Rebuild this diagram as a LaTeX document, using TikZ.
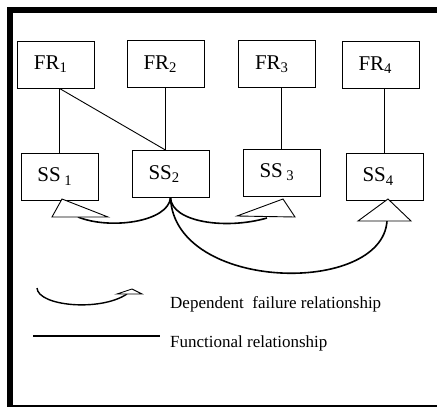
\documentclass[tikz,border=0pt]{standalone}
\usepackage{fontspec}
\setmainfont{Liberation Serif}
\usetikzlibrary{calc,positioning}

\begin{document}
\begin{tikzpicture}[
	%	style def
    x=1pt, y=-1pt,
    thin line/.style={line width=0.9pt},
    curve line/.style={line width=1.6pt},
    frame line/.style={line width=6pt},
    box/.style={draw, line width=0.9pt, minimum height=47pt, text width=44pt, inner xsep=16.5pt, inner ysep=0pt, align=left, font=\fontsize{21}{25}\selectfont},
    head/.style={draw, line width=0.9pt, fill=white, line join=miter},
    legend/.style={anchor=base west, inner sep=0pt, font=\fontsize{17}{20}\selectfont}
    ]
	\useasboundingbox (0,0) rectangle (437,407);

	% outer frame
	\draw[frame line] (9.5,9.5) rectangle (441,407.5);

	% functional requirements and sub-systems
	\node[box] (fr1) at (56,64.5) {FR\textsubscript{1}};
	\node[box] (fr2) at (165.5,64) {FR\textsubscript{2}};
	\node[box] (fr3) at (277,64) {FR\textsubscript{3}};
	\node[box] (fr4) at (380.5,65) {FR\textsubscript{4}};
	\node[box] (ss1) at (59.5,176.5) {SS\,\textsubscript{1}};
	\node[box] (ss2) at (170.5,174) {SS\textsubscript{2}};
	\node[box] (ss3) at (281.5,172.5) {SS\,\textsubscript{3}};
	\node[box] (ss4) at (384.5,176.5) {SS\textsubscript{4}};

	% functional relationships
	\draw[thin line] (ss1.north |- fr1.south) coordinate (f1) -- (ss1.north);
	\draw[thin line] (fr2.south) -- (fr2.south |- ss2.north) coordinate (f2);
	\draw[thin line] (f1) -- (f2);
	\draw[thin line] (ss3.north |- fr3.south) -- (ss3.north);
	\draw[thin line] (ss4.north |- fr4.south) -- (ss4.north);

	% dependent failure relationships
	\coordinate (e1) at (78,217);
	\coordinate (e2) at (267,218);
	\coordinate (e3) at (387,221);
	\draw[curve line] (ss2.south) .. controls +(-2.5,24) and +(32,13) .. (e1);
	\draw[curve line] (ss2.south) .. controls +(1.5,24) and +(-42,12) .. (e2);
	\draw[curve line] (ss2.south) .. controls +(4.5,94) and +(-5,75) .. (e3);
	% open heads
	\draw[head] (62,199) coordinate (t1) -- (52,217) -- (108,217) -- cycle;
	\draw[head] (283,199) coordinate (t2) -- (295,217) -- (237,216) -- cycle;
	\draw[head] (388,199) coordinate (t3) -- (411,221) -- (358,221) -- cycle;

	% legend
	\coordinate (l1) at (37,288);
	\coordinate (l2) at (127,294);
	\draw[line width=1.4pt] (l1) .. controls +(1,18) and +(-27,18) .. (l2);
	\draw[head] (117,294) -- (132,289) -- (142,294) -- cycle;
	\node[legend] (dep) at (170,308) {Dependent\ \ failure relationship};

	\coordinate (l3) at (33,336);
	\coordinate (l4) at (160,336);
	\draw[line width=1.1pt] (l3) -- (l4);
	\node[legend] (fun) at (170,347.5) {Functional relationship};
\end{tikzpicture}
\end{document}
